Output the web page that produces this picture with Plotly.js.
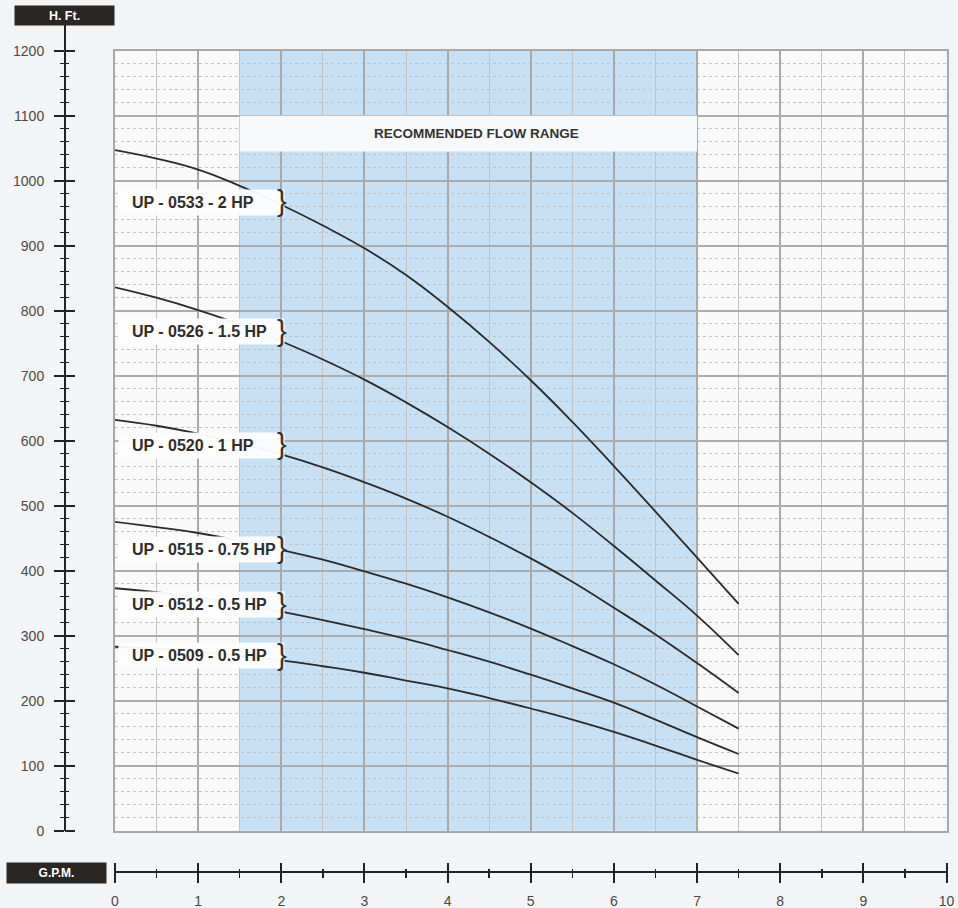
<!DOCTYPE html>
<html><head><meta charset="utf-8">
<script src="https://cdn.plot.ly/plotly-3.0.1.min.js"></script>
<style>html,body{margin:0;padding:0;background:#f3f4f6;}#chart{width:958px;height:908px;}</style>
</head><body><div id="chart"></div>
<script>
// ---- data ----
const gpm = [0,0.5,1,1.5,2,2.5,3,3.5,4,4.5,5,5.5,6,6.5,7,7.5];
const up0533 = [1047,1034,1017,992,963,931,896,855,806,752,693,629,561,491,420,349];
const up0526 = [836,820,801,779,753,725,694,659,621,580,536,489,438,385,331,270];
const up0520 = [632,623,611,596,579,559,536,511,483,452,419,383,343,302,258,212];
const up0515 = [475,467,458,446,432,417,399,380,359,336,311,284,256,225,191,157];
const up0512 = [373,367,359,349,337,324,310,295,278,260,240,219,197,171,144,118];
const up0509 = [283,280,275,269,262,253,243,231,219,204,188,171,152,131,109,88];
const seriesNames = ['UP - 0533 - 2 HP','UP - 0526 - 1.5 HP','UP - 0520 - 1 HP','UP - 0515 - 0.75 HP','UP - 0512 - 0.5 HP','UP - 0509 - 0.5 HP'];
const recommendedFlow = [1.5, 7];
const bannerText = 'RECOMMENDED FLOW RANGE';
const yAxisTitle = 'H. Ft.';
const xAxisTitle = 'G.P.M.';

// ---- layout constants (positions / styles) ----
const W = 958, H = 908;
const px = v => v / W, py = v => 1 - v / H;
const labelY = [967, 768, 593, 433, 348, 269];
const bannerY = [1045, 1100];
const FONT = 'Liberation Sans, Arial, Helvetica, sans-serif';
const ink = '#2b2b2b';

const allSeries = [up0533, up0526, up0520, up0515, up0512, up0509];
const traces = allSeries.map((ys, i) => ({
  type: 'scatter', mode: 'lines', x: gpm, y: ys, name: seriesNames[i],
  line: {color: ink, width: 1.8, shape: 'spline', smoothing: 1.3},
  hoverinfo: 'skip', showlegend: false
}));
// helper traces so that the decorative axes get drawn
['y2','y3','y4'].forEach(a => traces.push({type:'scatter', x:[], y:[], xaxis:'x', yaxis:a, showlegend:false, hoverinfo:'skip'}));
['x2','x3','x4'].forEach(a => traces.push({type:'scatter', x:[], y:[], xaxis:a, yaxis:'y', showlegend:false, hoverinfo:'skip'}));

const tickFont = {family: FONT, size: 14, color: '#4a4a4a'};

// vertical scale bar (three stacked free axes make ticks that cross the line)
const yTickAxis = (pos, majorLen, minorLen, main) => ({
  overlaying: 'y', anchor: 'free', position: px(pos), side: 'left',
  range: [0, 1200], dtick: 100, tick0: 0, showgrid: false, zeroline: false,
  ticks: 'outside', ticklen: majorLen, tickwidth: 2, tickcolor: '#222',
  minor: {dtick: 20, tick0: 0, ticks: minorLen ? 'outside' : '', ticklen: minorLen || 1, tickwidth: 1.5, tickcolor: '#222', showgrid: false},
  showline: main, linecolor: '#222', linewidth: 2,
  showticklabels: main, tickfont: tickFont, ticklabelstandoff: 7, fixedrange: true
});
const xTickAxis = (pos, majorLen, minorLen, main) => ({
  overlaying: 'x', anchor: 'free', position: py(pos), side: 'bottom',
  range: [0, 10], dtick: 1, tick0: 0, showgrid: false, zeroline: false,
  ticks: 'outside', ticklen: majorLen, tickwidth: 2, tickcolor: '#222',
  minor: {dtick: 0.5, tick0: 0, ticks: minorLen ? 'outside' : '', ticklen: minorLen || 1, tickwidth: 1.5, tickcolor: '#222', showgrid: false},
  showline: main, linecolor: '#222', linewidth: 2,
  showticklabels: main, tickfont: tickFont, ticklabelstandoff: 6, fixedrange: true
});

const annotations = [];
annotations.push({xref:'paper', yref:'paper', x: px(64.5), y: py(15.5), xanchor:'center', yanchor:'middle',
  text: yAxisTitle, showarrow:false, bgcolor:'#2a2624', width: 93, height: 13, borderpad: 3,
  font:{family: FONT, size: 12.5, color:'#ffffff', weight:'bold'}});
annotations.push({xref:'paper', yref:'paper', x: px(56.5), y: py(873), xanchor:'center', yanchor:'middle',
  text: xAxisTitle, showarrow:false, bgcolor:'#2a2624', width: 93, height: 14, borderpad: 3,
  font:{family: FONT, size: 12, color:'#ffffff', weight:'bold'}});
annotations.push({xref:'x', yref:'y', x: 4.35, y: (bannerY[0]+bannerY[1])/2, xanchor:'center', yanchor:'middle',
  text: bannerText, showarrow:false, font:{family: FONT, size: 13.5, color:'#333', weight:'bold'}});
seriesNames.forEach((name, i) => {
  annotations.push({xref:'x', yref:'y', x: 0.036, y: labelY[i], xanchor:'left', yanchor:'middle',
    text: '\u00a0\u00a0' + name, align:'left', width: 157, showarrow:false,
    bgcolor:'rgba(253,253,253,0.96)', borderpad: 4,
    font:{family: FONT, size: 16, color:'#2d2d2d', weight:'bold'}});
  annotations.push({xref:'x', yref:'y', x: 2.01, y: labelY[i], xanchor:'center', yanchor:'middle', yshift: 1,
    text: '}', showarrow:false, font:{family: FONT, size: 29, color:'#333', weight:'normal'}});
});

const layout = {
  width: W, height: H, margin: {l:0, r:0, t:0, b:0},
  paper_bgcolor: '#f3f4f6', plot_bgcolor: '#f9f9f9', showlegend: false,
  xaxis: {domain: [px(115), px(946.5)], range: [0, 10], dtick: 1, tick0: 0,
    showgrid: true, gridcolor: '#a9a9a9', gridwidth: 2,
    minor: {dtick: 0.5, tick0: 0, showgrid: true, gridcolor: '#c3c3c3', gridwidth: 1},
    showticklabels: false, ticks: '', zeroline: false,
    showline: true, mirror: true, linecolor: '#a8a8a8', linewidth: 2, fixedrange: true},
  yaxis: {domain: [py(830.7), py(50.7)], range: [0, 1200], dtick: 100, tick0: 0,
    showgrid: true, gridcolor: '#acacac', gridwidth: 2,
    minor: {dtick: 20, tick0: 0, showgrid: true, gridcolor: '#c2c2c2', gridwidth: 1, griddash: 'dot'},
    showticklabels: false, ticks: '', zeroline: false,
    showline: true, mirror: true, linecolor: '#a8a8a8', linewidth: 2, fixedrange: true},
  yaxis2: yTickAxis(65, 10, 4, true),
  yaxis3: yTickAxis(75, 10, 0, false),
  yaxis4: yTickAxis(69, 0, 4, false),
  xaxis2: xTickAxis(872, 10, 4.5, true),
  xaxis3: xTickAxis(862, 10, 0, false),
  xaxis4: xTickAxis(867.5, 0, 4.5, false),
  shapes: [
    {type:'rect', xref:'x', yref:'y', x0: recommendedFlow[0], x1: recommendedFlow[1], y0: 0, y1: 1200,
     fillcolor:'#c8e0f4', line:{width:0}, layer:'below'},
    {type:'rect', xref:'x', yref:'y', x0: recommendedFlow[0], x1: recommendedFlow[1], y0: bannerY[0], y1: bannerY[1],
     fillcolor:'#f8f9fa', line:{width:0}, layer:'between'},
    {type:'line', xref:'paper', yref:'paper', x0: px(65), x1: px(65), y0: py(50.7), y1: py(25),
     line:{color:'#222', width:2}}
  ],
  annotations: annotations
};

Plotly.newPlot('chart', traces, layout, {displayModeBar: false, staticPlot: true});
</script></body></html>
